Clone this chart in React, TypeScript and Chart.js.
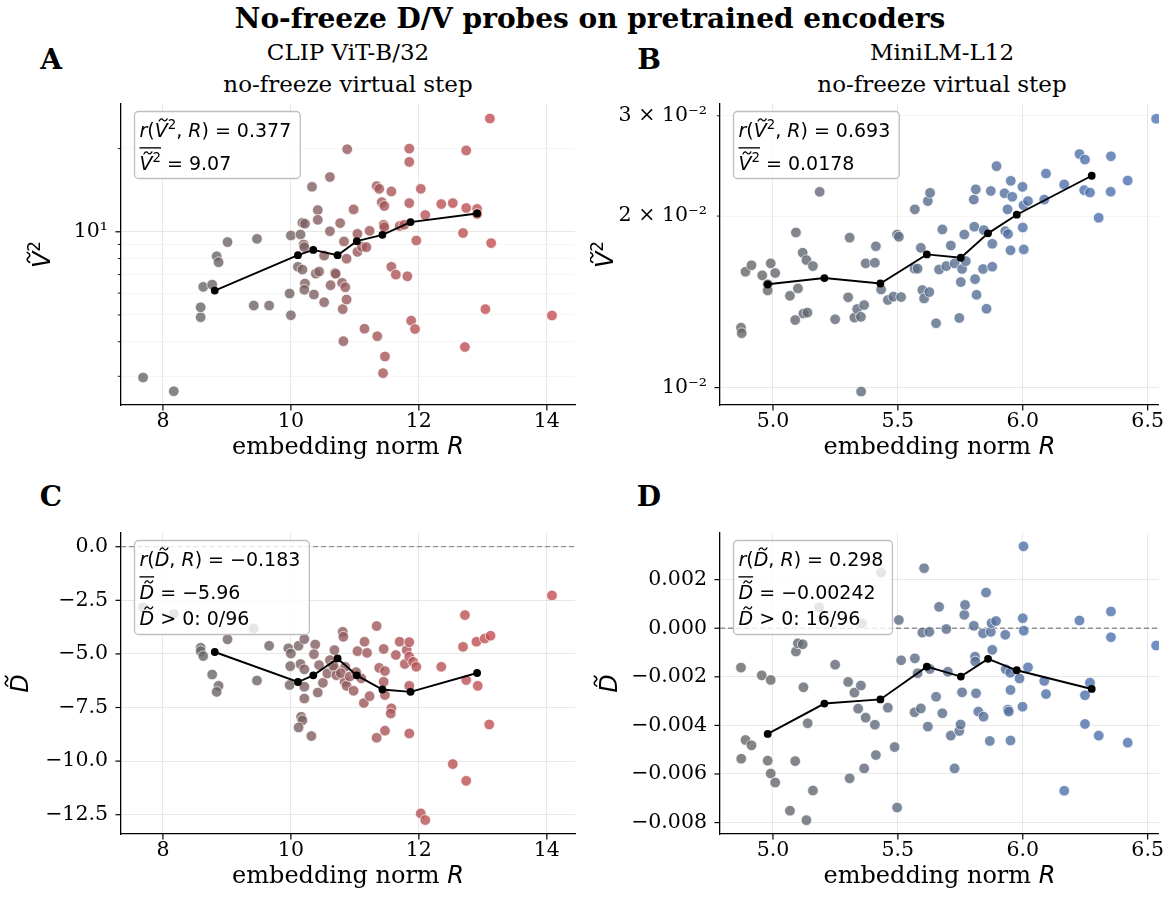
import React, { useEffect, useRef } from "react";
import { Chart, registerables } from "chart.js";

Chart.register(...registerables);

const SERIF = '"DejaVu Serif", serif';
const SANS = '"DejaVu Sans", sans-serif';

// ---------------- DATA ----------------
// CLIP ViT-B/32 — panel A (embedding norm R vs V~^2)
const clipR_V = [7.69, 8.17, 8.59, 8.59, 8.63, 8.77, 8.84, 8.87, 9.01, 9.42, 9.66, 9.47, 10.0, 9.98, 10.0, 10.11, 10.18, 10.15, 10.18, 10.22, 10.2, 10.21, 10.22, 10.21, 10.36, 10.39, 10.44, 10.42, 10.42, 10.33, 10.52, 10.61, 10.61, 10.52, 10.62, 10.69, 10.7, 10.77, 10.81, 10.8, 10.85, 10.87, 10.82, 10.83, 10.87, 10.88, 10.98, 11.04, 11.04, 11.11, 11.15, 11.18, 11.23, 11.34, 11.38, 11.35, 11.42, 11.46, 11.45, 11.46, 11.47, 11.44, 11.57, 11.64, 11.57, 11.7, 11.77, 11.82, 11.85, 11.85, 11.85, 11.88, 11.94, 11.96, 12.03, 12.1, 12.35, 12.53, 12.69, 12.72, 12.74, 12.74, 12.91, 12.91, 13.04, 13.11, 13.13, 14.08];
const clipV2 = [2.97, 2.65, 4.91, 5.33, 6.32, 6.44, 8.16, 7.76, 9.18, 5.41, 5.41, 9.43, 9.7, 5.98, 4.99, 7.47, 7.3, 9.78, 10.78, 10.7, 9.0, 8.8, 6.5, 6.17, 5.93, 7.06, 7.18, 11.98, 11.05, 14.55, 5.56, 15.78, 10.05, 8.2, 6.41, 7.1, 7.05, 10.75, 5.25, 6.54, 6.3, 5.69, 4.02, 9.23, 7.99, 19.9, 12.05, 9.83, 8.46, 8.82, 4.46, 8.8, 10.08, 14.63, 14.3, 4.19, 12.8, 12.4, 10.6, 10.4, 3.54, 3.08, 7.47, 7.0, 14.0, 10.5, 10.6, 6.9, 12.7, 17.9, 20.0, 4.77, 4.45, 9.3, 14.3, 11.5, 12.6, 12.7, 9.9, 3.83, 19.7, 12.2, 12.1, 11.6, 5.25, 25.7, 9.1, 4.98];

// CLIP ViT-B/32 — panel C (embedding norm R vs D~)
const clipR_D = [7.69, 8.17, 9.42, 8.59, 8.59, 8.63, 8.77, 8.87, 8.84, 9.01, 9.47, 9.66, 9.96, 10.0, 9.99, 9.98, 10.12, 10.21, 10.15, 10.21, 10.21, 10.21, 10.16, 10.18, 10.12, 10.32, 10.38, 10.36, 10.42, 10.44, 10.5, 10.57, 10.61, 10.68, 10.69, 10.71, 10.81, 10.82, 10.85, 10.84, 10.87, 10.98, 11.04, 11.15, 11.19, 11.1, 11.14, 11.23, 11.34, 11.34, 11.38, 11.47, 11.45, 11.45, 11.47, 11.57, 11.56, 11.47, 11.64, 11.7, 11.78, 11.81, 11.85, 11.85, 11.91, 11.96, 11.85, 11.85, 12.03, 12.1, 12.35, 12.53, 12.69, 12.72, 12.74, 12.74, 12.9, 13.03, 13.12, 12.92, 13.1, 14.08, 10.66, 10.78, 10.92, 11.02];
const clipD = [-2.83, -3.14, -3.81, -4.71, -4.87, -5.1, -5.96, -6.49, -6.77, -4.32, -6.24, -4.62, -4.74, -4.98, -5.57, -6.45, -4.62, -4.31, -5.47, -5.72, -6.53, -7.08, -7.93, -8.1, -8.43, -8.83, -4.56, -5.01, -6.8, -5.52, -6.35, -5.91, -5.29, -4.82, -5.68, -5.99, -3.97, -4.2, -5.6, -6.3, -6.49, -6.72, -4.87, -4.43, -4.95, -6.14, -7.29, -6.97, -3.7, -8.91, -5.65, -5.8, -4.77, -6.3, -6.92, -7.54, -7.78, -8.58, -5.05, -4.43, -5.47, -4.82, -4.45, -5.13, -5.37, -5.6, -6.49, -8.71, -12.44, -12.75, -5.6, -10.14, -4.67, -3.19, -6.22, -10.92, -4.43, -4.28, -4.15, -6.49, -8.29, -2.27, -5.55, -5.9, -6.05, -5.85];

// CLIP binned means
const clipBinR = [8.81, 10.11, 10.35, 10.73, 11.03, 11.43, 11.87, 12.91];
const clipBinV2 = [6.13, 8.23, 8.6, 8.23, 9.25, 9.75, 10.84, 11.65];
const clipBinD = [-4.91, -6.31, -6.0, -5.21, -6.0, -6.66, -6.77, -5.89];

// MiniLM-L12 — panel B
const miniR_V = [4.872, 4.875, 4.89, 4.914, 4.957, 4.979, 4.979, 4.991, 5.009, 5.068, 5.1, 5.089, 5.092, 5.119, 5.134, 5.16, 5.122, 5.138, 5.187, 5.249, 5.301, 5.307, 5.326, 5.337, 5.352, 5.365, 5.353, 5.371, 5.408, 5.412, 5.433, 5.46, 5.482, 5.513, 5.497, 5.504, 5.568, 5.567, 5.579, 5.592, 5.598, 5.605, 5.626, 5.62, 5.629, 5.653, 5.665, 5.678, 5.694, 5.712, 5.727, 5.746, 5.752, 5.757, 5.766, 5.772, 5.804, 5.812, 5.806, 5.809, 5.815, 5.841, 5.844, 5.855, 5.872, 5.878, 5.878, 5.895, 5.927, 5.93, 5.939, 5.941, 5.951, 5.952, 5.958, 5.999, 6.0, 6.004, 6.003, 6.021, 6.086, 6.093, 6.166, 6.227, 6.249, 6.246, 6.269, 6.304, 6.353, 6.352, 6.42, 6.534];
const miniV2 = [0.01274, 0.01246, 0.01597, 0.0164, 0.01574, 0.01518, 0.01481, 0.01652, 0.01589, 0.01449, 0.01493, 0.01314, 0.01872, 0.01725, 0.01674, 0.01634, 0.01349, 0.01354, 0.02206, 0.01318, 0.0144, 0.01833, 0.01327, 0.01374, 0.01331, 0.01396, 0.00984, 0.01652, 0.01656, 0.0177, 0.01487, 0.01425, 0.01444, 0.01442, 0.01857, 0.0184, 0.02055, 0.01617, 0.01617, 0.01759, 0.01483, 0.01434, 0.01471, 0.02125, 0.02197, 0.01297, 0.01612, 0.01895, 0.01634, 0.01776, 0.01652, 0.01325, 0.01532, 0.01615, 0.01857, 0.01667, 0.02138, 0.02228, 0.01916, 0.0155, 0.01455, 0.01615, 0.0189, 0.01375, 0.02214, 0.01788, 0.0163, 0.02447, 0.02193, 0.01882, 0.02055, 0.0186, 0.01742, 0.02306, 0.02162, 0.02251, 0.0191, 0.01748, 0.0209, 0.02125, 0.02138, 0.02375, 0.02273, 0.0257, 0.02513, 0.02221, 0.022, 0.01986, 0.02547, 0.02207, 0.02309, 0.02964];

// MiniLM-L12 — panel D
const miniR_D = [4.872, 4.873, 4.89, 4.914, 4.955, 4.979, 4.991, 4.991, 5.009, 5.068, 5.089, 5.092, 5.1, 5.119, 5.122, 5.139, 5.16, 5.134, 5.185, 5.249, 5.301, 5.307, 5.326, 5.341, 5.352, 5.365, 5.371, 5.356, 5.408, 5.412, 5.433, 5.46, 5.487, 5.497, 5.504, 5.513, 5.568, 5.579, 5.567, 5.592, 5.605, 5.598, 5.626, 5.62, 5.628, 5.653, 5.665, 5.678, 5.694, 5.7, 5.712, 5.727, 5.746, 5.751, 5.757, 5.766, 5.769, 5.804, 5.809, 5.81, 5.813, 5.822, 5.843, 5.841, 5.853, 5.868, 5.872, 5.875, 5.893, 5.878, 5.93, 5.932, 5.941, 5.944, 5.95, 5.951, 5.951, 5.987, 5.999, 6.0, 6.004, 6.021, 6.003, 6.086, 6.093, 6.166, 6.227, 6.249, 6.249, 6.269, 6.304, 6.353, 6.353, 6.42, 6.534];
const miniD = [-0.00162, -0.00537, -0.0046, -0.00482, -0.00194, -0.00545, -0.00213, -0.00598, -0.00635, -0.00751, -0.00547, -0.00096, -0.00062, -0.00066, -0.00243, -0.00391, -0.00668, -0.0079, 0.00087, -0.0015, -0.00221, -0.00618, -0.00265, -0.00331, -0.00236, -0.00577, -0.00368, 0.0002, -0.00397, -0.00522, 0.00229, -0.00327, -0.00489, -0.00738, 0.00034, -0.00132, -0.00124, -0.00185, -0.00346, -0.0033, 0.00247, -0.00018, -0.00015, -0.00405, -0.00168, -0.00282, 0.00088, -0.0035, -0.00003, -0.00179, -0.00442, -0.00577, -0.00423, -0.00396, -0.00264, 0.00055, 0.00096, 0.0001, -0.00117, -0.00137, -0.00268, -0.00343, -0.00364, -0.00021, 0.00147, -0.00464, -0.00015, 0.00021, 0.0003, -0.00089, -0.00027, -0.00169, -0.00335, -0.00343, -0.00183, -0.00254, -0.00462, -0.00207, -0.00323, 0.00041, -0.0001, -0.00161, 0.00337, -0.00217, -0.00271, -0.00669, 0.00032, -0.00276, -0.00394, -0.00224, -0.00442, 0.00069, -0.00037, -0.00471, -0.00071];

// MiniLM binned means
const miniBinR = [4.979, 5.206, 5.43, 5.616, 5.752, 5.861, 5.976, 6.276];
const miniBinV2 = [0.01518, 0.01557, 0.01523, 0.01713, 0.0169, 0.01865, 0.02011, 0.02354];
const miniBinD = [-0.00435, -0.0031, -0.00293, -0.00158, -0.00199, -0.00126, -0.00173, -0.0025];

// Ticks
const clipXTicks = [8, 10, 12, 14];
const miniXTicks = [5.0, 5.5, 6.0, 6.5];
const clipV2Ticks = [3, 4, 5, 6, 7, 8, 9, 10, 20];
const clipV2Major = [10];
const clipV2Labels = ["", "", "", "", "", "", "", "10\u00B9", ""];
const miniV2Ticks = [0.01, 0.02, 0.03];
const miniV2Major = [0.01];
const miniV2Labels = ["10\u207B\u00B2", "2 \u00D7 10\u207B\u00B2", "3 \u00D7 10\u207B\u00B2"];
const clipDTicks = [0, -2.5, -5, -7.5, -10, -12.5];
const miniDTicks = [0.002, 0, -0.002, -0.004, -0.006, -0.008];

// Stats text
const clipStatsV = { r: "0.377", mean: "9.07" };
const miniStatsV = { r: "0.693", mean: "0.0178" };
const clipStatsD = { r: "\u22120.183", mean: "\u22125.96", pos: "0/96" };
const miniStatsD = { r: "0.298", mean: "\u22120.00242", pos: "16/96" };

// ---------------- helpers ----------------
type Seg = { t: string; it?: boolean; sup?: boolean; tilde?: boolean; over?: boolean; serif?: boolean };

const TICK_SIZE = 20.5;

function mfont(size: number, it?: boolean, serif?: boolean) {
  return `${it ? "italic " : ""}${size}px ${serif ? SERIF : SANS}`;
}

function layoutMath(ctx: CanvasRenderingContext2D, segs: Seg[], size: number) {
  let x = 0;
  const items: { s: Seg; x: number; w: number; fs: number }[] = [];
  for (const s of segs) {
    const fs = s.sup ? size * 0.7 : size;
    ctx.font = mfont(fs, s.it, s.serif);
    const w = ctx.measureText(s.t).width;
    items.push({ s, x, w, fs });
    x += w;
  }
  return { items, width: x };
}

function drawTilde(ctx: CanvasRenderingContext2D, cx: number, cy: number, size: number) {
  const w = size * 0.42;
  const h = size * 0.09;
  ctx.save();
  ctx.lineWidth = Math.max(1, size * 0.065);
  ctx.lineCap = "round";
  ctx.beginPath();
  ctx.moveTo(cx - w / 2, cy + h * 0.6);
  ctx.bezierCurveTo(cx - w / 4, cy - h * 1.6, cx - w * 0.05, cy - h * 0.2, cx, cy);
  ctx.bezierCurveTo(cx + w * 0.05, cy + h * 0.2, cx + w / 4, cy + h * 1.6, cx + w / 2, cy - h * 0.6);
  ctx.stroke();
  ctx.restore();
}

function drawMath(ctx: CanvasRenderingContext2D, segs: Seg[], x: number, y: number, size: number, align: "left" | "center" = "left") {
  const { items, width } = layoutMath(ctx, segs, size);
  const x0 = align === "center" ? x - width / 2 : x;
  ctx.textBaseline = "alphabetic";
  ctx.textAlign = "left";
  let oMin = Infinity;
  let oMax = -Infinity;
  for (const it of items) {
    ctx.font = mfont(it.fs, it.s.it, it.s.serif);
    const dy = it.s.sup ? -size * 0.42 : 0;
    ctx.fillText(it.s.t, x0 + it.x, y + dy);
    if (it.s.tilde) {
      drawTilde(ctx, x0 + it.x + it.w * 0.5 + size * 0.1, y - size * 0.9, size);
    }
    if (it.s.over) {
      oMin = Math.min(oMin, x0 + it.x);
      oMax = Math.max(oMax, x0 + it.x + it.w);
    }
  }
  if (oMax > oMin) {
    ctx.fillRect(oMin, y - size * 1.2, oMax - oMin, Math.max(1.2, size * 0.07));
  }
  return width;
}

const V2: Seg[] = [{ t: "V", it: true, tilde: true }, { t: "2", sup: true }];
const V2over: Seg[] = [{ t: "V", it: true, tilde: true, over: true }, { t: "2", sup: true, over: true }];
const Dt: Seg[] = [{ t: "D", it: true, tilde: true }];
const Dover: Seg[] = [{ t: "D", it: true, tilde: true, over: true }];

function statsV(st: { r: string; mean: string }): Seg[][] {
  return [
    [{ t: "r", it: true }, { t: "(" }, ...V2, { t: ", " }, { t: "R", it: true }, { t: ")" }, { t: " = " + st.r }],
    [...V2over, { t: " = " + st.mean }],
  ];
}
function statsD(st: { r: string; mean: string; pos: string }): Seg[][] {
  return [
    [{ t: "r", it: true }, { t: "(" }, ...Dt, { t: ", " }, { t: "R", it: true }, { t: ")" }, { t: " = " + st.r }],
    [...Dover, { t: " = " + st.mean }],
    [...Dt, { t: " > 0: " + st.pos }],
  ];
}

const xTitle: Seg[] = [{ t: "embedding norm ", serif: true }, { t: "R", it: true }];

function near(a: number, b: number) {
  return Math.abs(a - b) <= 1e-12 + 1e-6 * Math.abs(b);
}

function rankColors(xs: number[], hue: number[]) {
  const gray = [102, 102, 102];
  const idx = xs.map((_, i) => i).sort((a, b) => xs[a] - xs[b]);
  const t: number[] = new Array(xs.length);
  idx.forEach((k, r) => (t[k] = r / (xs.length - 1)));
  return t.map((v) => {
    const c = gray.map((g, j) => Math.round(g + (hue[j] - g) * v));
    return `rgba(${c[0]},${c[1]},${c[2]},0.8)`;
  });
}

function fmtLin(v: number, dec: number) {
  const s = Math.abs(v).toFixed(dec);
  return (v < -1e-12 ? "\u2212" : "") + s;
}

interface Spec {
  left: number;
  top: number;
  w: number;
  h: number;
  area: { left: number; top: number; right: number; bottom: number };
  xMin: number;
  xMax: number;
  xTicks: number[];
  xDec: number;
  yType: "linear" | "logarithmic";
  yMin: number;
  yMax: number;
  yTicks: number[];
  yMajor: number[];
  yLabel: (v: number) => string;
  px: number[];
  py: number[];
  bx: number[];
  by: number[];
  hue: number[];
  stats: Seg[][];
  yTitle: Seg[];
  yTitleX: number;
  zero: boolean;
}

function buildConfig(s: Spec): any {
  const padTop = s.area.top - s.top;
  const padRight = s.left + s.w - s.area.right;
  const yW = s.area.left - s.left;
  const xH = s.top + s.h - s.area.bottom;
  const colors = rankColors(s.px, s.hue);
  const isMajorY = (v: number) => s.yMajor.some((m) => near(v, m));

  const decor = {
    id: "decor",
    beforeDatasetsDraw(chart: any) {
      if (!s.zero) return;
      const ctx = chart.ctx;
      const ca = chart.chartArea;
      const y0 = chart.scales.y.getPixelForValue(0);
      ctx.save();
      ctx.strokeStyle = "rgba(128,128,128,0.85)";
      ctx.lineWidth = 1.3;
      ctx.setLineDash([5, 3]);
      ctx.beginPath();
      ctx.moveTo(ca.left, y0);
      ctx.lineTo(ca.right, y0);
      ctx.stroke();
      ctx.restore();
    },
    afterDatasetsDraw(chart: any) {
      const ctx: CanvasRenderingContext2D = chart.ctx;
      const ca = chart.chartArea;
      const size = 19;
      ctx.save();
      const widths = s.stats.map((ln) => layoutMath(ctx, ln, size).width);
      const bw = Math.max(...widths) + 14;
      const bh = s.stats.length === 2 ? 67 : 94;
      const bx = ca.left + 13.5;
      const by = ca.top + 7.5;
      ctx.beginPath();
      (ctx as any).roundRect(bx, by, bw, bh, 4);
      ctx.fillStyle = "rgba(255,255,255,0.8)";
      ctx.fill();
      ctx.strokeStyle = "rgba(190,190,190,1)";
      ctx.lineWidth = 1.3;
      ctx.stroke();
      ctx.fillStyle = "#000";
      ctx.strokeStyle = "#000";
      const bases = [25.5, 58.5, 84.5];
      s.stats.forEach((ln, i) => drawMath(ctx, ln, bx + 5, by + bases[i], size));
      ctx.restore();
    },
    afterDraw(chart: any) {
      const ctx: CanvasRenderingContext2D = chart.ctx;
      const ca = chart.chartArea;
      const xs = chart.scales.x;
      const ys = chart.scales.y;
      ctx.save();
      ctx.strokeStyle = "#000";
      for (const t of xs.ticks) {
        const p = xs.getPixelForValue(t.value);
        if (p < ca.left - 0.5 || p > ca.right + 0.5) continue;
        ctx.lineWidth = 1.2;
        ctx.beginPath();
        ctx.moveTo(p, ca.bottom);
        ctx.lineTo(p, ca.bottom + 5.5);
        ctx.stroke();
      }
      for (const t of ys.ticks) {
        const p = ys.getPixelForValue(t.value);
        if (p < ca.top - 0.5 || p > ca.bottom + 0.5) continue;
        const major = isMajorY(t.value);
        ctx.lineWidth = major ? 1.2 : 0.9;
        ctx.beginPath();
        ctx.moveTo(ca.left - (major ? 5.5 : 3.2), p);
        ctx.lineTo(ca.left, p);
        ctx.stroke();
      }
      ctx.fillStyle = "#000";
      // x title
      drawMath(ctx, xTitle, (ca.left + ca.right) / 2, ca.bottom + 49, 24, "center");
      // y title
      ctx.translate(s.yTitleX - s.left, (ca.top + ca.bottom) / 2);
      ctx.rotate(-Math.PI / 2);
      drawMath(ctx, s.yTitle, 0, 24 * 0.42, 24, "center");
      ctx.restore();
    },
  };

  return {
    type: "scatter",
    data: {
      datasets: [
        {
          type: "line",
          data: s.bx.map((x, i) => ({ x, y: s.by[i] })),
          showLine: true,
          borderColor: "#000",
          borderWidth: 1.9,
          pointRadius: 3.9,
          pointBackgroundColor: "#000",
          pointBorderColor: "#000",
          pointBorderWidth: 0,
          fill: false,
          tension: 0,
        },
        {
          type: "scatter",
          data: s.px.map((x, i) => ({ x, y: s.py[i] })),
          pointRadius: 5.3,
          pointBackgroundColor: colors,
          pointBorderColor: "rgba(255,255,255,0.85)",
          pointBorderWidth: 0.8,
        },
      ],
    },
    options: {
      responsive: false,
      animation: false,
      devicePixelRatio: 1,
      events: [],
      layout: { padding: { top: padTop, right: padRight, left: 0, bottom: 0 } },
      plugins: { legend: { display: false }, tooltip: { enabled: false }, title: { display: false } },
      scales: {
        x: {
          type: "linear",
          min: s.xMin,
          max: s.xMax,
          afterBuildTicks: (sc: any) => {
            sc.ticks = s.xTicks.map((v) => ({ value: v }));
          },
          afterFit: (sc: any) => {
            sc.height = xH;
            sc.paddingLeft = 0;
            sc.paddingRight = 0;
            sc.paddingTop = 0;
            sc.paddingBottom = 0;
          },
          grid: { color: "rgba(0,0,0,0.09)", lineWidth: 1, drawTicks: false },
          border: { display: true, color: "#000", width: 1.3 },
          ticks: {
            font: { family: SERIF, size: TICK_SIZE },
            color: "#000",
            padding: 4,
            maxRotation: 0,
            autoSkip: false,
            callback: (v: number) => fmtLin(v, s.xDec),
          },
        },
        y: {
          type: s.yType,
          min: s.yMin,
          max: s.yMax,
          afterBuildTicks: (sc: any) => {
            sc.ticks = s.yTicks.map((v) => ({ value: v }));
          },
          afterFit: (sc: any) => {
            sc.width = yW;
            sc.paddingTop = 0;
            sc.paddingBottom = 0;
            sc.paddingLeft = 0;
            sc.paddingRight = 0;
          },
          grid: {
            color: (c: any) => (c.tick && isMajorY(c.tick.value) ? "rgba(0,0,0,0.09)" : "rgba(0,0,0,0.035)"),
            lineWidth: 1,
            drawTicks: false,
          },
          border: { display: true, color: "#000", width: 1.3 },
          ticks: {
            font: { family: SERIF, size: TICK_SIZE },
            color: "#000",
            padding: 13,
            autoSkip: false,
            callback: (v: number) => s.yLabel(v),
          },
        },
      },
    },
    plugins: [decor],
  };
}

const RED = [196, 78, 82];
const BLUE = [76, 114, 176];

const specs: Spec[] = [
  {
    left: 0, top: 95, w: 590, h: 380,
    area: { left: 121, top: 104, right: 575, bottom: 405 },
    xMin: 7.345, xMax: 14.44, xTicks: clipXTicks, xDec: 0,
    yType: "logarithmic", yMin: 2.362, yMax: 29.0, yTicks: clipV2Ticks, yMajor: clipV2Major,
    yLabel: (v) => clipV2Labels[clipV2Ticks.findIndex((t) => near(v, t))] ?? "",
    px: clipR_V, py: clipV2, bx: clipBinR, by: clipBinV2, hue: RED,
    stats: statsV(clipStatsV), yTitle: V2, yTitleX: 40, zero: false,
  },
  {
    left: 590, top: 95, w: 575, h: 380,
    area: { left: 720, top: 104, right: 1163, bottom: 405 },
    xMin: 4.788, xMax: 6.545, xTicks: miniXTicks, xDec: 1,
    yType: "logarithmic", yMin: 0.00932, yMax: 0.03146, yTicks: miniV2Ticks, yMajor: miniV2Major,
    yLabel: (v) => miniV2Labels[miniV2Ticks.findIndex((t) => near(v, t))] ?? "",
    px: miniR_V, py: miniV2, bx: miniBinR, by: miniBinV2, hue: BLUE,
    stats: statsV(miniStatsV), yTitle: V2, yTitleX: 603, zero: false,
  },
  {
    left: 0, top: 525, w: 590, h: 376,
    area: { left: 121, top: 533, right: 575, bottom: 834 },
    xMin: 7.345, xMax: 14.44, xTicks: clipXTicks, xDec: 0,
    yType: "linear", yMin: -13.4, yMax: 0.64, yTicks: clipDTicks, yMajor: clipDTicks,
    yLabel: (v) => fmtLin(v, 1),
    px: clipR_D, py: clipD, bx: clipBinR, by: clipBinD, hue: RED,
    stats: statsD(clipStatsD), yTitle: Dt, yTitleX: 18, zero: true,
  },
  {
    left: 590, top: 525, w: 575, h: 376,
    area: { left: 720, top: 533, right: 1163, bottom: 834 },
    xMin: 4.788, xMax: 6.545, xTicks: miniXTicks, xDec: 1,
    yType: "linear", yMin: -0.00847, yMax: 0.00392, yTicks: miniDTicks, yMajor: miniDTicks,
    yLabel: (v) => fmtLin(v, 3),
    px: miniR_D, py: miniD, bx: miniBinR, by: miniBinD, hue: BLUE,
    stats: statsD(miniStatsD), yTitle: Dt, yTitleX: 607, zero: true,
  },
];

function Panel({ spec }: { spec: Spec }) {
  const ref = useRef<HTMLCanvasElement>(null);
  useEffect(() => {
    const chart = new Chart(ref.current as HTMLCanvasElement, buildConfig(spec));
    return () => chart.destroy();
  }, [spec]);
  return (
    <canvas
      ref={ref}
      width={spec.w}
      height={spec.h}
      style={{ position: "absolute", left: spec.left, top: spec.top, width: spec.w, height: spec.h }}
    />
  );
}

function Label({ x, y, text, font }: { x: number; y: number; text: string; font: string }) {
  return (
    <div
      style={{
        position: "absolute",
        left: x,
        top: y,
        transform: "translate(-50%, -50%)",
        font,
        lineHeight: 1,
        whiteSpace: "nowrap",
        color: "#000",
      }}
    >
      {text}
    </div>
  );
}

export default function App() {
  return (
    <div style={{ position: "absolute", left: 0, top: 0, width: 1165, height: 901, background: "#fff", overflow: "hidden" }}>
      <Label x={590} y={19} text="No-freeze D/V probes on pretrained encoders" font={`bold 28px ${SERIF}`} />
      <Label x={51} y={60} text="A" font={`bold 28px ${SERIF}`} />
      <Label x={649} y={60} text="B" font={`bold 28px ${SERIF}`} />
      <Label x={51} y={497} text="C" font={`bold 28px ${SERIF}`} />
      <Label x={649} y={497} text="D" font={`bold 28px ${SERIF}`} />
      <Label x={348} y={52} text="CLIP ViT-B/32" font={`23px ${SERIF}`} />
      <Label x={348} y={84} text="no-freeze virtual step" font={`23px ${SERIF}`} />
      <Label x={942} y={52} text="MiniLM-L12" font={`23px ${SERIF}`} />
      <Label x={942} y={84} text="no-freeze virtual step" font={`23px ${SERIF}`} />
      {specs.map((s, i) => (
        <Panel key={i} spec={s} />
      ))}
    </div>
  );
}
